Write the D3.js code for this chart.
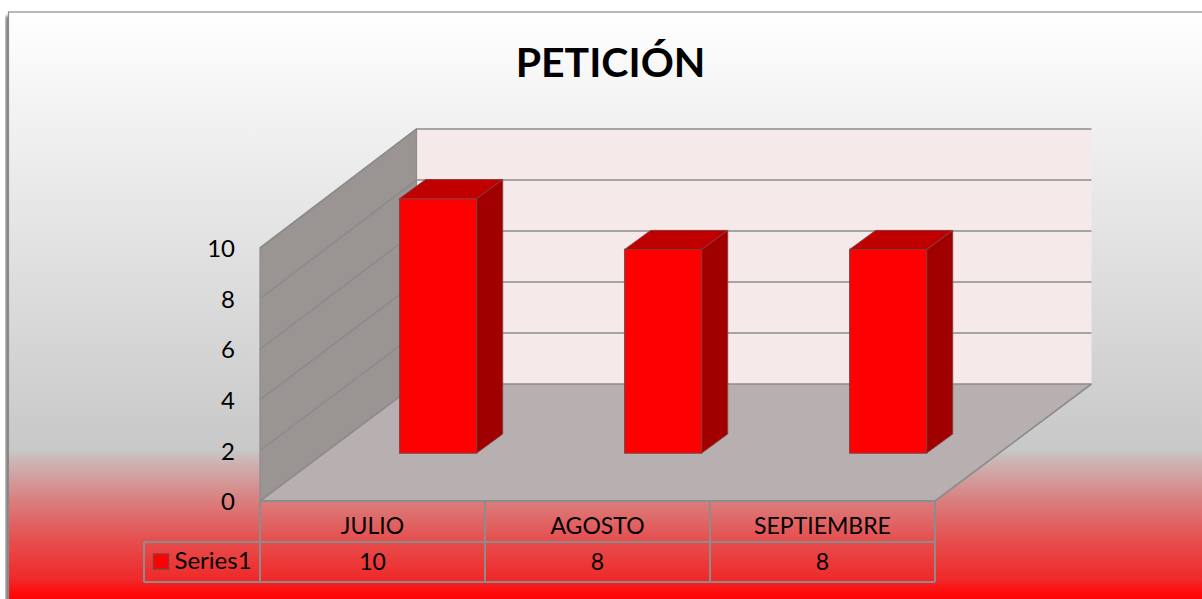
<!DOCTYPE html>
<html><head><meta charset="utf-8">
<script src="https://cdn.jsdelivr.net/npm/d3@7"></script>
<style>html,body{margin:0;padding:0;background:#fff;overflow:hidden}svg{display:block}text{font-family:Lato,"Open Sans",sans-serif;fill:#000}</style>
</head><body><svg id="c" width="1202" height="599"></svg>
<script>
const titleText = "PETICIÓN";
const categories = ["JULIO","AGOSTO","SEPTIEMBRE"];
const seriesName = "Series1";
const values = [10,8,8];
const yTicks = [0,2,4,6,8,10];

const svg = d3.select("#c");
const defs = svg.append("defs");
const bg = defs.append("linearGradient").attr("id","bg").attr("gradientUnits","userSpaceOnUse").attr("x1",0).attr("y1",12).attr("x2",0).attr("y2",604);
[[0,"#ffffff"],[0.74,"#c8c8c8"],[0.755,"#ccb8b8"],[0.823,"#d98080"],[0.89,"#e65050"],[0.96,"#f02828"],[0.98,"#fe0c0c"],[1,"#ff0000"]]
  .forEach(([o,c])=>bg.append("stop").attr("offset",o).attr("stop-color",c));
const blur = defs.append("filter").attr("id","sh").attr("x","-2%").attr("width","104%");
blur.append("feGaussianBlur").attr("stdDeviation",1.4);

const GRID = "#8c8c8c";
const x = d3.scaleBand().domain(categories).range([260,935]);
const y = d3.scaleLinear().domain([0,10]).range([501,248]);
const barH = d3.scaleLinear().domain([0,10]).range([0,254.5]);
const DX = 156.5, DY = -117, BACK_STRETCH = 2;
// projects a point of the front plane back by a depth fraction d
const P = (px,val,d)=>[px+d*DX, y(val)+d*DY-d*(val/10)*BACK_STRETCH];
const poly = pts => pts.map(p=>p.join(",")).join(" ");

// frame
svg.append("rect").attr("x",5.5).attr("y",16).attr("width",6).attr("height",590).attr("fill","#777").attr("filter","url(#sh)");
svg.append("rect").attr("x",8.5).attr("y",12).attr("width",1200).attr("height",592).attr("fill","url(#bg)").attr("stroke","#8a8a8a").attr("stroke-width",1.2);

// title
svg.append("text").attr("x",610.5).attr("y",77).attr("text-anchor","middle").attr("font-size",41).attr("font-weight",700).text(titleText);

const x0=x.range()[0], x1=x.range()[1];
// walls
svg.append("polygon").attr("points",poly([P(x0,0,1),P(x1,0,1),P(x1,10,1),P(x0,10,1)])).attr("fill","#f5e9e9");
svg.append("polygon").attr("points",poly([P(x0,0,0),P(x0,0,1),P(x0,10,1),P(x0,10,0)])).attr("fill","#9a9593").attr("stroke",GRID).attr("stroke-width",1.2);
svg.append("polygon").attr("points",poly([P(x0,0,0),P(x1,0,0),P(x1,0,1),P(x0,0,1)])).attr("fill","#b8b0b0");

// gridlines
yTicks.forEach(t=>{
  const a=P(x0,t,0), b=P(x0,t,1), c=P(x1,t,1);
  svg.append("polyline").attr("points",poly([a,b,c])).attr("fill","none").attr("stroke",GRID).attr("stroke-width",1.7);
});
svg.append("polyline").attr("points",poly([P(x1,0,0),P(x1,0,1)])).attr("fill","none").attr("stroke",GRID).attr("stroke-width",1.7);

// bars
const BAR_D0=0.41, BAR_W=77, SIDE_X=26, SIDE_Y=-19, BAR_SHIFT=1.7;
const gb = svg.append("g").selectAll("g").data(categories.map((c,i)=>({c,v:values[i]}))).join("g");
gb.each(function(d){
  const g=d3.select(this);
  const l=x(d.c)+x.bandwidth()/2-BAR_W/2-BAR_D0*DX+64+BAR_SHIFT, r=l+BAR_W;
  const base=P(l,0,BAR_D0), baseR=P(r,0,BAR_D0);
  const h=barH(d.v);
  const tl_=[base[0],base[1]-h], tr_=[baseR[0],baseR[1]-h];
  const off=p=>[p[0]+SIDE_X,p[1]+SIDE_Y];
  g.append("polygon").attr("points",poly([base,baseR,tr_,tl_])).attr("fill","#ff0000").attr("stroke","#8a3a3a").attr("stroke-width",1.2);
  g.append("polygon").attr("points",poly([tl_,tr_,off(tr_),off(tl_)])).attr("fill","#c00000").attr("stroke","#8a3a3a").attr("stroke-width",1);
  g.append("polygon").attr("points",poly([baseR,off(baseR),off(tr_),tr_])).attr("fill","#a00000").attr("stroke","#8a3a3a").attr("stroke-width",1);
});

// y axis labels
const ax = svg.append("g").attr("transform","translate(235,1)").call(d3.axisLeft(y).tickValues(yTicks).tickSize(0).tickPadding(0));
ax.select(".domain").remove();
ax.selectAll("text").attr("font-size",24).style("font-family","Lato").attr("fill","#000");

// data table
const rowTop=501, rowMid=542, rowBot=582, legL=144;
const tl = (a,b,c,d)=>svg.append("line").attr("x1",a).attr("y1",b).attr("x2",c).attr("y2",d).attr("stroke",GRID).attr("stroke-width",2);
tl(x0,rowTop,x1,rowTop); tl(legL,rowMid,x1,rowMid); tl(legL,rowBot,x1,rowBot);
tl(legL,rowMid,legL,rowBot);
[x0,...categories.map(c=>x(c)+x.bandwidth())].forEach(v=>tl(v,rowTop,v,rowBot));
categories.forEach((c,i)=>{
  const cx=x(c)+x.bandwidth()/2;
  svg.append("text").attr("x",cx).attr("y",533.5).attr("text-anchor","middle").attr("font-size",23).text(c);
  svg.append("text").attr("x",cx).attr("y",570).attr("text-anchor","middle").attr("font-size",23).text(values[i]);
});
svg.append("rect").attr("x",153.5).attr("y",554).attr("width",15).attr("height",15).attr("fill","#ff0000").attr("stroke","#8a3a3a").attr("stroke-width",1.4);
svg.append("text").attr("x",174.5).attr("y",569).attr("font-size",24).text(seriesName);
</script></body></html>
